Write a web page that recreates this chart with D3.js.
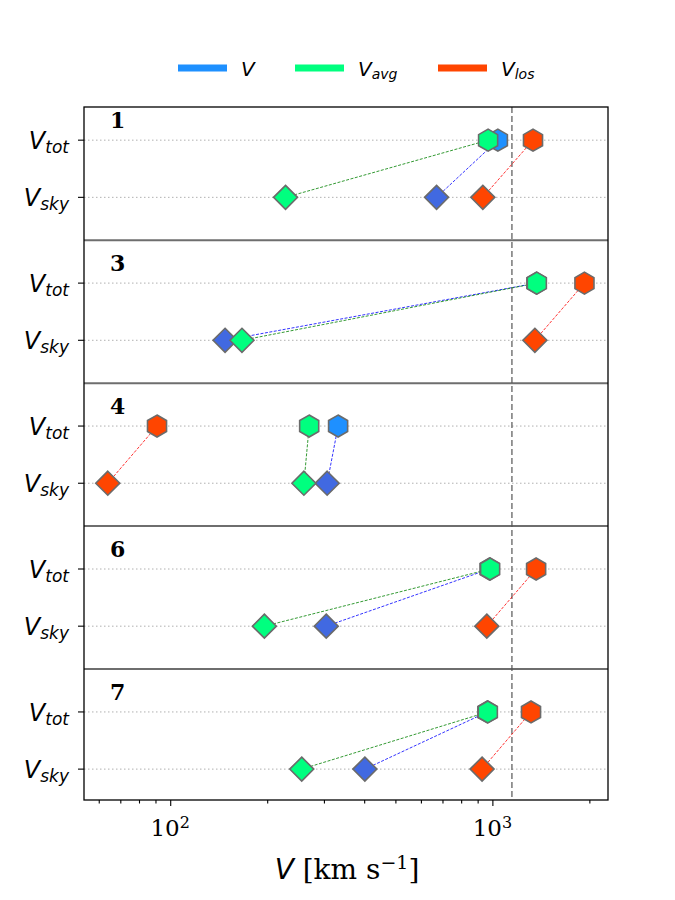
<!DOCTYPE html>
<html>
<head>
<meta charset="utf-8">
<script src="https://cdn.jsdelivr.net/npm/d3@7"></script>
<style>
  body { margin: 0; background: #fff; }
  svg text { fill: #000; }
</style>
</head>
<body>
<svg id="main" width="675" height="900"></svg>
<script>
// panel labels, top to bottom
var panels = ["1", "3", "4", "6", "7"];

// velocities in km/s, one value per panel
var vTot = [1040, 1370, 332, 980, 965];
var vSky = [671, 148, 307, 305, 402];
var vAvgTot = [970, 1374, 270, 984, 968];
var vAvgSky = [228, 167, 260, 196, 256];
var vLosTot = [1337, 1931, 91, 1367, 1318];
var vLosSky = [934, 1355, 64, 961, 929];

// vertical reference line
var vRef = 1150;

var xMajor = [100, 1000];
var xMinor = [60, 70, 80, 90, 200, 300, 400, 500, 600, 700, 800, 900, 2000];

var series = [
  { name: "V", sub: "", tot: vTot, sky: vSky, totColor: "#1e90ff", skyColor: "#4169e1", line: "#0000ff" },
  { name: "V", sub: "avg", tot: vAvgTot, sky: vAvgSky, totColor: "#00ff7f", skyColor: "#00ff7f", line: "#008000" },
  { name: "V", sub: "los", tot: vLosTot, sky: vLosSky, totColor: "#ff4500", skyColor: "#ff4500", line: "#ff0000" }
];

var margin = { left: 84, right: 608, top: 107, bottom: 800 };
var svg = d3.select("#main");

var x = d3.scaleLog().domain([54, 2285]).range([margin.left, margin.right]);
// each panel: tot at 1, sky at 0, shifted down by 2.5 per panel
var step = 2.5;
var y = d3.scaleLinear().domain([1.58, -0.54 - step * (panels.length - 1)])
  .range([margin.top, margin.bottom]);

function yTot(i) { return y(1 - step * i); }
function ySky(i) { return y(0 - step * i); }

function hexPath(r) {
  var pts = d3.range(6).map(function(k) {
    var a = (-90 + 60 * k) * Math.PI / 180;
    return [r * Math.cos(a), r * Math.sin(a)];
  });
  return "M" + pts.join("L") + "Z";
}
function diamondPath(r) {
  return "M0," + (-r) + "L" + r + ",0L0," + r + "L" + (-r) + ",0Z";
}

var plot = svg.append("g");

// dotted grid at every tick row
panels.forEach(function(p, i) {
  [yTot(i), ySky(i)].forEach(function(yy) {
    plot.append("line")
      .attr("x1", margin.left).attr("x2", margin.right)
      .attr("y1", yy).attr("y2", yy)
      .attr("stroke", "#b0b0b0").attr("stroke-width", 1)
      .attr("stroke-dasharray", "1.5,2.5");
  });
});

// separators between panels
d3.range(1, panels.length).forEach(function(i) {
  var yy = y(-0.75 - step * (i - 1));
  plot.append("line")
    .attr("x1", margin.left).attr("x2", margin.right)
    .attr("y1", yy).attr("y2", yy)
    .attr("stroke", "#6e6e6e").attr("stroke-width", 2);
});

// reference line
plot.append("line")
  .attr("x1", x(vRef)).attr("x2", x(vRef))
  .attr("y1", margin.top).attr("y2", margin.bottom)
  .attr("stroke", "#555").attr("stroke-width", 1.2)
  .attr("stroke-dasharray", "6,3");

// connectors sky -> tot
series.forEach(function(s) {
  plot.selectAll(null).data(panels).enter().append("line")
    .attr("x1", function(d, i) { return x(s.sky[i]); })
    .attr("y1", function(d, i) { return ySky(i); })
    .attr("x2", function(d, i) { return x(s.tot[i]); })
    .attr("y2", function(d, i) { return yTot(i); })
    .attr("stroke", s.line).attr("stroke-width", 0.8)
    .attr("stroke-dasharray", "3,1.5");
});

// markers
series.forEach(function(s) {
  plot.selectAll(null).data(panels).enter().append("path")
    .attr("d", hexPath(11))
    .attr("transform", function(d, i) { return "translate(" + x(s.tot[i]) + "," + yTot(i) + ")"; })
    .attr("fill", s.totColor).attr("stroke", "#6b6b6b").attr("stroke-width", 1.6);
  plot.selectAll(null).data(panels).enter().append("path")
    .attr("d", diamondPath(12))
    .attr("transform", function(d, i) { return "translate(" + x(s.sky[i]) + "," + ySky(i) + ")"; })
    .attr("fill", s.skyColor).attr("stroke", "#6b6b6b").attr("stroke-width", 1.6);
});

// panel numbers
plot.selectAll(null).data(panels).enter().append("text")
  .attr("x", 110)
  .attr("y", function(d, i) { return yTot(i) - 12; })
  .attr("font-family", "DejaVu Serif").attr("font-weight", "bold")
  .attr("font-size", 22)
  .text(function(d) { return d; });

// frame
svg.append("rect")
  .attr("x", margin.left).attr("y", margin.top)
  .attr("width", margin.right - margin.left).attr("height", margin.bottom - margin.top)
  .attr("fill", "none").attr("stroke", "#000").attr("stroke-width", 1.3);

// x axis
var xAxisMajor = d3.axisBottom(x).tickValues(xMajor).tickSize(6).tickFormat("");
var xAxisMinor = d3.axisBottom(x).tickValues(xMinor).tickSize(3.5).tickFormat("");
[xAxisMajor, xAxisMinor].forEach(function(ax) {
  var g = svg.append("g").attr("transform", "translate(0," + margin.bottom + ")").call(ax);
  g.select(".domain").remove();
  g.selectAll(".tick line").attr("stroke", "#000").attr("stroke-width", 1.1);
});

var xt = svg.selectAll(null).data(xMajor).enter().append("text")
  .attr("x", function(d) { return x(d); })
  .attr("y", 836)
  .attr("text-anchor", "middle")
  .attr("font-family", "DejaVu Serif").attr("font-size", 23);
xt.append("tspan").text("10");
xt.append("tspan").attr("dy", -8).attr("font-size", 16)
  .text(function(d) { return Math.round(Math.log10(d)); });

// x label
var xl = svg.append("text")
  .attr("x", (margin.left + margin.right) / 2 + 1).attr("y", 879)
  .attr("text-anchor", "middle")
  .attr("font-family", "DejaVu Serif").attr("font-size", 28);
xl.append("tspan").attr("font-family", "DejaVu Sans").attr("font-style", "italic").text("V");
xl.append("tspan").text(" [km s");
xl.append("tspan").attr("dy", -10).attr("font-size", 19).text("\u22121");
xl.append("tspan").attr("dy", 10).text("]");

// y ticks and labels
panels.forEach(function(p, i) {
  [["tot", yTot(i)], ["sky", ySky(i)]].forEach(function(t) {
    svg.append("line")
      .attr("x1", margin.left - 6).attr("x2", margin.left)
      .attr("y1", t[1]).attr("y2", t[1])
      .attr("stroke", "#000").attr("stroke-width", 1.1);
    var lab = svg.append("text")
      .attr("x", 69).attr("y", t[1] + 9)
      .attr("text-anchor", "end")
      .attr("font-family", "DejaVu Sans").attr("font-style", "italic")
      .attr("font-size", 24);
    lab.append("tspan").text("V");
    lab.append("tspan").attr("dy", 4).attr("font-size", 17).text(t[0]);
  });
});

// legend
var legendX = [178, 295, 438];
var leg = svg.append("g");
series.forEach(function(s, i) {
  leg.append("line")
    .attr("x1", legendX[i]).attr("x2", legendX[i] + 49)
    .attr("y1", 68).attr("y2", 68)
    .attr("stroke", s.totColor).attr("stroke-width", 7);
  var t = leg.append("text")
    .attr("x", legendX[i] + 63).attr("y", 76)
    .attr("font-family", "DejaVu Sans").attr("font-style", "italic")
    .attr("font-size", 20);
  t.append("tspan").text(s.name);
  if (s.sub) t.append("tspan").attr("dy", 3).attr("font-size", 14).text(s.sub);
});
</script>
</body>
</html>
